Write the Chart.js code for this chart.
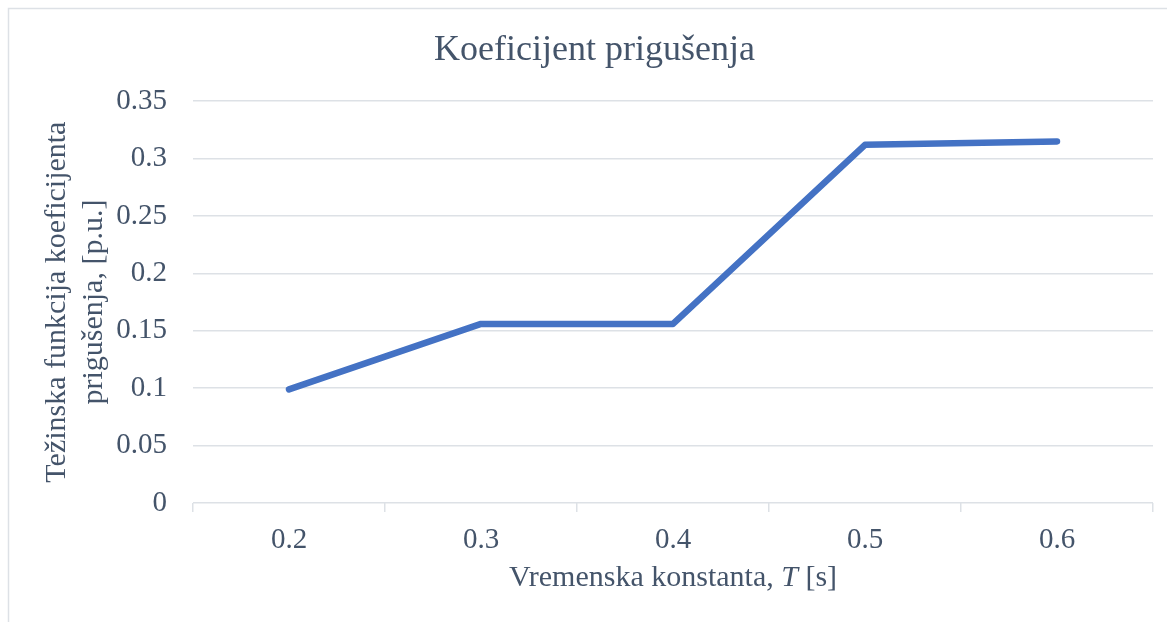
<!DOCTYPE html>
<html>
<head>
<meta charset="utf-8">
<script src="https://cdn.jsdelivr.net/npm/chart.js@4"></script>
<style>
    body { margin: 0; background: #ffffff; }
    canvas { display: block; }
</style>
</head>
<body>
<canvas id="damping-chart" width="1167" height="622"></canvas>
<script>
const timeConstants = ['0.2', '0.3', '0.4', '0.5', '0.6'];
const dampingWeights = [0.099, 0.156, 0.156, 0.312, 0.315];
const yTickValues = [0, 0.05, 0.1, 0.15, 0.2, 0.25, 0.3, 0.35];

const textColor = '#44546a';
const gridColor = '#dde1e6';
const fontFamily = "'Liberation Serif', 'Times New Roman', serif";

Chart.defaults.font.family = fontFamily;
Chart.defaults.color = textColor;

// frame round the whole picture, like the exported chart area
const framePlugin = {
    id: 'frame',
    beforeDraw(chart) {
        const ctx = chart.ctx;
        ctx.save();
        ctx.fillStyle = '#ffffff';
        ctx.fillRect(0, 0, chart.width, chart.height);
        ctx.strokeStyle = gridColor;
        ctx.lineWidth = 1.5;
        ctx.strokeRect(8.5, 8.5, chart.width + 20, chart.height + 20);
        ctx.restore();
    }
};

// x axis title with an italic T
const xTitlePlugin = {
    id: 'xTitle',
    afterDraw(chart) {
        const ctx = chart.ctx;
        const area = chart.chartArea;
        const parts = [
            { text: 'Vremenska konstanta, ', font: '30px ' + fontFamily },
            { text: 'T', font: 'italic 30px ' + fontFamily },
            { text: ' [s]', font: '30px ' + fontFamily }
        ];
        ctx.save();
        let total = 0;
        parts.forEach(p => {
            ctx.font = p.font;
            p.width = ctx.measureText(p.text).width;
            total += p.width;
        });
        let x = (area.left + area.right) / 2 - total / 2;
        const y = 578;
        ctx.fillStyle = textColor;
        ctx.textBaseline = 'middle';
        ctx.textAlign = 'left';
        parts.forEach(p => {
            ctx.font = p.font;
            ctx.fillText(p.text, x, y);
            x += p.width;
        });
        ctx.restore();
    }
};

new Chart(document.getElementById('damping-chart'), {
    type: 'line',
    data: {
        labels: timeConstants,
        datasets: [{
            label: 'Koeficijent prigušenja',
            data: dampingWeights,
            borderColor: '#4472c4',
            backgroundColor: '#4472c4',
            borderWidth: 6.5,
            borderCapStyle: 'round',
            borderJoinStyle: 'round',
            pointRadius: 0,
            tension: 0,
            fill: false
        }]
    },
    options: {
        responsive: false,
        animation: false,
        layout: {
            padding: { top: 0, right: 14, bottom: 0, left: 36 }
        },
        plugins: {
            legend: { display: false },
            tooltip: { enabled: false },
            title: {
                display: true,
                text: 'Koeficijent prigušenja',
                color: textColor,
                font: { size: 36, weight: 'normal' },
                padding: { top: 29, bottom: 29 }
            }
        },
        scales: {
            x: {
                type: 'category',
                offset: true,
                grid: {
                    offset: true,
                    drawOnChartArea: false,
                    drawTicks: true,
                    tickLength: 9,
                    color: gridColor,
                    lineWidth: 1.5
                },
                border: { display: false },
                ticks: {
                    color: textColor,
                    font: { size: 29 },
                    padding: 11,
                    maxRotation: 0
                },
                afterFit(scale) {
                    scale.height = 119;
                }
            },
            y: {
                min: 0,
                max: 0.35,
                grid: {
                    drawTicks: false,
                    color: gridColor,
                    lineWidth: 1.5
                },
                border: { display: false },
                ticks: {
                    color: textColor,
                    font: { size: 29 },
                    padding: 26,
                    callback: value => Number(value.toFixed(2)).toString()
                },
                afterBuildTicks(scale) {
                    scale.ticks = yTickValues.map(v => ({ value: v }));
                },
                afterFit(scale) {
                    scale.width = 157;
                },
                title: {
                    display: true,
                    text: ['Težinska funkcija koeficijenta', 'prigušenja, [p.u.]'],
                    color: textColor,
                    font: { size: 30, lineHeight: 1.22 },
                    padding: { top: 3 }
                }
            }
        }
    },
    plugins: [framePlugin, xTitlePlugin]
});
</script>
</body>
</html>
